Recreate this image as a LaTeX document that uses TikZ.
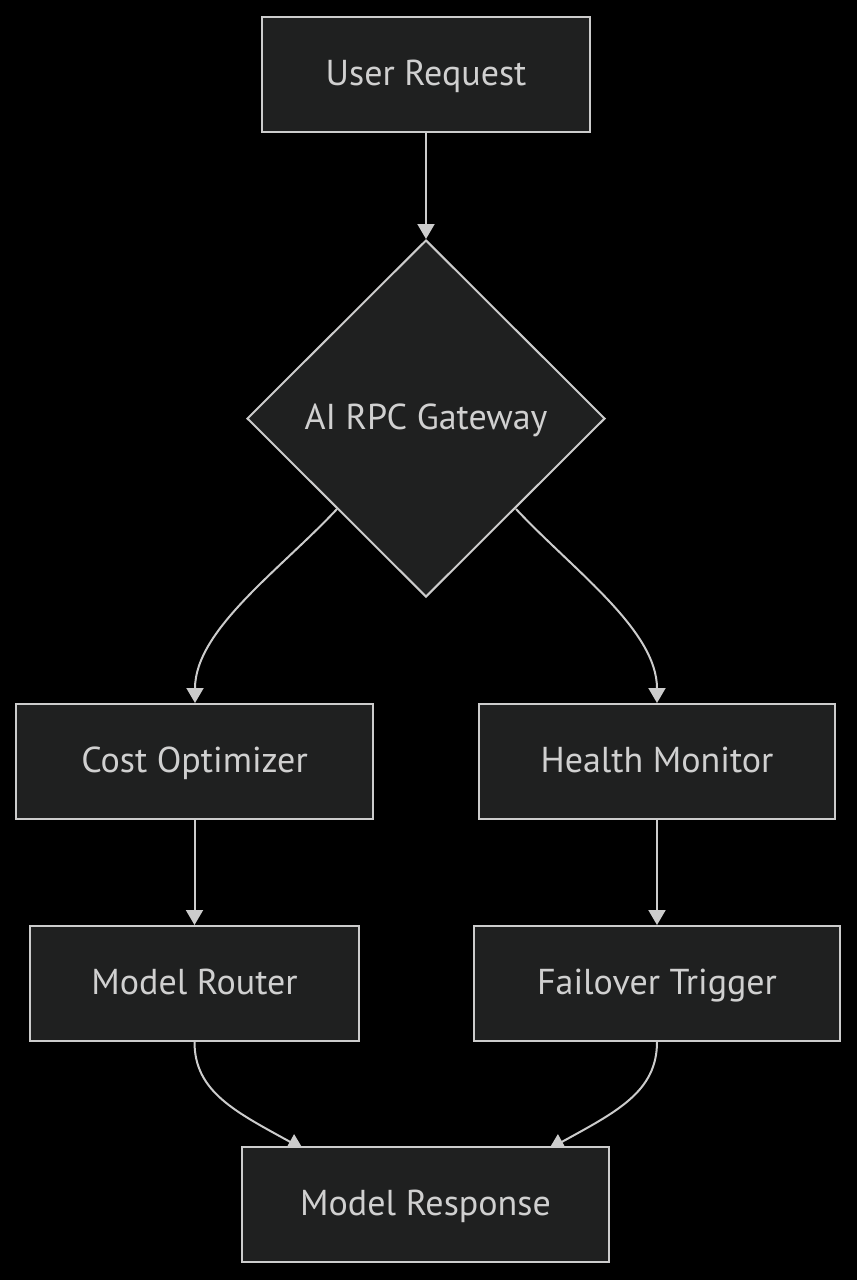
\documentclass[tikz,border=0pt]{standalone}
\usepackage{fontspec}
\setmainfont{PT Sans}
\usetikzlibrary{shapes.geometric,arrows.meta}
\definecolor{bgc}{HTML}{000000}
\definecolor{fillc}{HTML}{1F2020}
\definecolor{strokec}{HTML}{CCCCCC}
\definecolor{textc}{HTML}{D0D0D0}
\pgfdeclarelayer{bgfill}
\pgfdeclarelayer{bg}
\pgfsetlayers{bgfill,bg,main}
\tikzset{
  box/.style={draw=strokec, fill=fillc, line width=2pt, text=textc, inner sep=0pt,
    font=\fontsize{36}{43}\selectfont, text height=25pt, text depth=4pt},
  dia/.style={box, diamond, aspect=1},
  edge/.style={draw=strokec, line width=2pt, -{Triangle[length=15pt,width=17pt]}},
}
\begin{document}
\begin{tikzpicture}[x=1pt,y=-1pt]
\begin{pgfonlayer}{bgfill}
\fill[bgc] (0,0) rectangle (857,1280);
\end{pgfonlayer}
\useasboundingbox (0,0) rectangle (857,1280);
\node[box, minimum width=328pt, minimum height=115pt] (ur) at (426,74.5) {User Request};
\node[dia, minimum width=358pt, minimum height=357pt] (gw) at (426,418.5) {AI RPC Gateway};
\node[box, minimum width=357pt, minimum height=115pt] (co) at (194.5,761.5) {Cost Optimizer};
\node[box, minimum width=356pt, minimum height=115pt] (hm) at (657,761.5) {Health Monitor};
\node[box, minimum width=329pt, minimum height=115pt] (mr) at (194.5,983.5) {Model Router};
\node[box, minimum width=366pt, minimum height=115pt] (ft) at (657,983.5) {Failover Trigger};
\node[box, minimum width=367pt, minimum height=115pt] (rs) at (425.5,1204.5) {Model Response};
\coordinate (gl) at (337,509);
\coordinate (gr) at (516,509);
\coordinate (lt) at (195,703);
\coordinate (rt) at (657,703);
\coordinate (bl) at (303,1149);
\coordinate (br) at (549,1149);
\draw[edge] (ur.south) -- (gw.north);
\draw[edge] (gl) .. controls (280,570) and (195,630) .. (lt);
\draw[edge] (gr) .. controls (573,570) and (657,630) .. (rt);
\draw[edge] (co.south) -- (mr.north);
\draw[edge] (hm.south) -- (ft.north);
\begin{pgfonlayer}{bg}
\draw[edge] (mr.south) .. controls ++(0,50) and (236,1112) .. (bl);
\draw[edge] (ft.south) .. controls ++(0,50) and (616,1112) .. (br);
\end{pgfonlayer}
\end{tikzpicture}
\end{document}
